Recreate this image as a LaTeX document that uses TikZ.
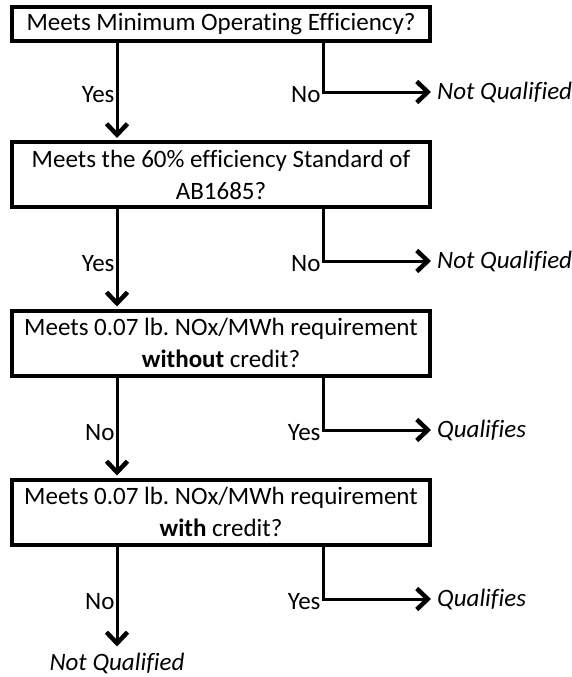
\documentclass[tikz,border=0pt]{standalone}
\usepackage{fontspec}
\setmainfont{Carlito}[Ligatures=NoCommon]
\usetikzlibrary{arrows.meta}
\frenchspacing
\begin{document}
\begin{tikzpicture}[x=1pt,y=-1pt,
  box/.style={draw, line width=4pt, minimum width=418pt, minimum height=34pt, align=center, inner sep=0pt},
  tall/.style={minimum height=65pt},
  flow/.style={line width=3pt, -{Straight Barb[length=11pt,width=21pt,line width=4.5pt]}, shorten >=2pt},
  lbl/.style={inner sep=1pt, yshift=-3pt},
  result/.style={inner sep=4pt, font=\fontsize{25}{32}\selectfont\itshape},
  font=\fontsize{25}{32}\selectfont]
\useasboundingbox (0,0) rectangle (571,677);
\node[box] (q1) at (221,24) {Meets Minimum Operating Efficiency?};
\node[box,tall] (q2) at (221,174.5) {Meets the 60\% efficiency Standard of\\AB1685?};
\node[box,tall] (q3) at (221,343) {Meets 0.07 lb. NOx/MWh requirement\\\textbf{without} credit?};
\node[box,tall] (q4) at (221,512) {Meets 0.07 lb. NOx/MWh requirement\\\textbf{with} credit?};
% columns and rows
\coordinate (c1) at (117,0);
\coordinate (c2) at (323,0);
\coordinate (r1) at (0,92);
\coordinate (r2) at (0,261);
\coordinate (r3) at (0,430);
\coordinate (r4) at (0,599);
% outcomes
\node[result,anchor=west] (n1) at (433,92) {Not Qualified};
\node[result,anchor=west] (n2) at (433,261) {Not Qualified};
\node[result,anchor=west] (n3) at (433,430) {Qualifies};
\node[result,anchor=west] (n4) at (433,599) {Qualifies};
\node[result] (n5) at (117,663) {Not Qualified};
% main line
\draw[flow] (c1 |- q1.south) -- (c1 |- r1) node[lbl,left]{Yes} -- (c1 |- q2.north);
\draw[flow] (c1 |- q2.south) -- (c1 |- r2) node[lbl,left]{Yes} -- (c1 |- q3.north);
\draw[flow] (c1 |- q3.south) -- (c1 |- r3) node[lbl,left]{No} -- (c1 |- q4.north);
\draw[flow] (c1 |- q4.south) -- (c1 |- r4) node[lbl,left]{No} -- (n5.north);
% side exits
\draw[flow] (c2 |- q1.south) -- (c2 |- r1) node[lbl,left]{No} -- (n1.west);
\draw[flow] (c2 |- q2.south) -- (c2 |- r2) node[lbl,left]{No} -- (n2.west);
\draw[flow] (c2 |- q3.south) -- (c2 |- r3) node[lbl,left]{Yes} -- (n3.west);
\draw[flow] (c2 |- q4.south) -- (c2 |- r4) node[lbl,left]{Yes} -- (n4.west);
\end{tikzpicture}
\end{document}
